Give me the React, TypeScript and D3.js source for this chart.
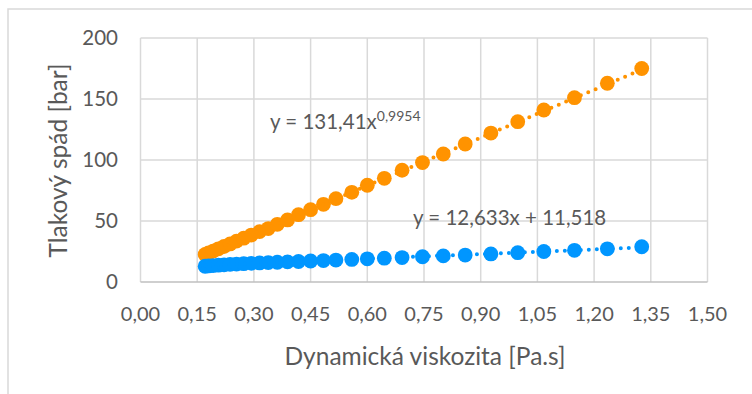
import { useEffect, useRef } from "react";
import * as d3 from "d3";

// Dynamic viscosity [Pa.s]
const viscosity = [
  0.171, 0.18, 0.192, 0.206, 0.221, 0.237, 0.254, 0.273, 0.293, 0.315,
  0.338, 0.362, 0.389, 0.418, 0.45, 0.484, 0.517, 0.559, 0.6, 0.645,
  0.692, 0.746, 0.801, 0.859, 0.927, 0.998, 1.067, 1.148, 1.235, 1.326,
];

// Pressure drop [bar] - orange series
const pressureHigh = [
  22.6, 23.8, 25.3, 27.2, 29.1, 31.2, 33.5, 35.9, 38.5, 41.3,
  43.8, 47.3, 50.9, 55.2, 59.3, 63.7, 68.3, 73.5, 79.3, 85.0,
  91.6, 97.9, 104.9, 113.1, 122.1, 131.4, 141.0, 151.1, 162.9, 175.0,
];

// Pressure drop [bar] - blue series
const pressureLow = [
  12.9, 13.2, 13.5, 13.8, 14.1, 14.4, 14.7, 15.0, 15.3, 15.6,
  15.9, 16.2, 16.5, 16.8, 17.2, 17.6, 18.0, 18.5, 19.0, 19.5,
  20.0, 20.7, 21.4, 22.1, 23.0, 24.0, 25.0, 26.0, 27.2, 28.9,
];

const xTicks = [0, 0.15, 0.3, 0.45, 0.6, 0.75, 0.9, 1.05, 1.2, 1.35, 1.5];
const yTicks = [0, 50, 100, 150, 200];

const ORANGE = "#ff9300";
const BLUE = "#0096ff";
const TEXT = "#595959";
const GRID = "#d9d9d9";
const FONT = "Lato, 'Open Sans', sans-serif";

export default function App() {
  const svgRef = useRef<SVGSVGElement>(null);

  useEffect(() => {
    if (!svgRef.current) return;
    const width = 752;
    const height = 394;
    const plot = { left: 140.5, right: 707.5, top: 38, bottom: 282 };

    const svg = d3.select(svgRef.current);
    svg.selectAll("*").remove();

    // chart frame
    svg
      .append("rect")
      .attr("x", 8)
      .attr("y", 9)
      .attr("width", width)
      .attr("height", height)
      .attr("fill", "#fff")
      .attr("stroke", GRID)
      .attr("stroke-width", 1.5);

    const x = d3.scaleLinear().domain([0, 1.5]).range([plot.left, plot.right]);
    const y = d3.scaleLinear().domain([0, 200]).range([plot.bottom, plot.top]);

    const fmt = (d: number) => d3.format(".2f")(d).replace(".", ",");

    // Grid
    const g = svg.append("g");
    xTicks.forEach((t) => {
      g.append("line")
        .attr("x1", x(t))
        .attr("x2", x(t))
        .attr("y1", plot.top)
        .attr("y2", plot.bottom)
        .attr("stroke", GRID)
        .attr("stroke-width", 1.5);
    });
    yTicks.forEach((t) => {
      g.append("line")
        .attr("x1", plot.left)
        .attr("x2", plot.right)
        .attr("y1", y(t))
        .attr("y2", y(t))
        .attr("stroke", t === 0 ? "#bfbfbf" : GRID)
        .attr("stroke-width", 1.5);
    });

    // Tick labels
    xTicks.forEach((t) => {
      g.append("text")
        .attr("x", x(t))
        .attr("y", 321)
        .attr("text-anchor", "middle")
        .attr("fill", TEXT)
        .attr("font-family", FONT)
        .attr("font-size", 20)
        .text(fmt(t));
    });
    yTicks.forEach((t) => {
      g.append("text")
        .attr("x", 118)
        .attr("y", y(t))
        .attr("dy", "0.36em")
        .attr("text-anchor", "end")
        .attr("fill", TEXT)
        .attr("font-family", FONT)
        .attr("font-size", 20.5)
        .text(String(t));
    });

    // Axis titles
    svg
      .append("text")
      .attr("x", 425)
      .attr("y", 365)
      .attr("text-anchor", "middle")
      .attr("fill", TEXT)
      .attr("font-family", FONT)
      .attr("font-size", 24.5)
      .text("Dynamická viskozita [Pa.s]");

    svg
      .append("text")
      .attr("transform", "translate(67,160.5) rotate(-90)")
      .attr("text-anchor", "middle")
      .attr("fill", TEXT)
      .attr("font-family", FONT)
      .attr("font-size", 24.5)
      .text("Tlakový spád [bar]");

    const series = [
      { values: pressureHigh, color: ORANGE },
      { values: pressureLow, color: BLUE },
    ];

    // Markers
    series.forEach((s) => {
      g.append("g")
        .selectAll("circle")
        .data(viscosity)
        .join("circle")
        .attr("cx", (d) => x(d))
        .attr("cy", (_, i) => y(s.values[i]))
        .attr("r", 7.4)
        .attr("fill", s.color);
    });

    // Trendlines (dotted)
    const xMin = d3.min(viscosity)!;
    const xMax = d3.max(viscosity)!;
    const xs = d3.range(0, 61).map((i) => xMin + ((xMax - xMin) * i) / 60);
    const power = (v: number) => 131.41 * Math.pow(v, 0.9954);
    const linear = (v: number) => 12.633 * v + 11.518;
    const line = d3
      .line<number>()
      .x((d) => x(d))
      .y((d) => y(d));

    [
      { f: power, color: ORANGE },
      { f: linear, color: BLUE },
    ].forEach((t) => {
      g.append("path")
        .attr("d", line.y((d) => y(t.f(d)))(xs))
        .attr("fill", "none")
        .attr("stroke", t.color)
        .attr("stroke-width", 4)
        .attr("stroke-linecap", "round")
        .attr("stroke-dasharray", "0 8");
    });

    // Trendline equations
    const eq1 = svg
      .append("text")
      .attr("x", 270)
      .attr("y", 129)
      .attr("fill", TEXT)
      .attr("font-family", FONT)
      .attr("font-size", 20.5);
    eq1.append("tspan").text("y = 131,41x");
    eq1
      .append("tspan")
      .attr("dy", -8)
      .attr("font-size", 14)
      .text("0,9954");

    svg
      .append("text")
      .attr("x", 413)
      .attr("y", 225)
      .attr("fill", TEXT)
      .attr("font-family", FONT)
      .attr("font-size", 20.5)
      .text("y = 12,633x + 11,518");
  }, []);

  return (
    <svg
      ref={svgRef}
      width={752}
      height={394}
      style={{ position: "absolute", left: 0, top: 0, background: "#fff" }}
    />
  );
}
